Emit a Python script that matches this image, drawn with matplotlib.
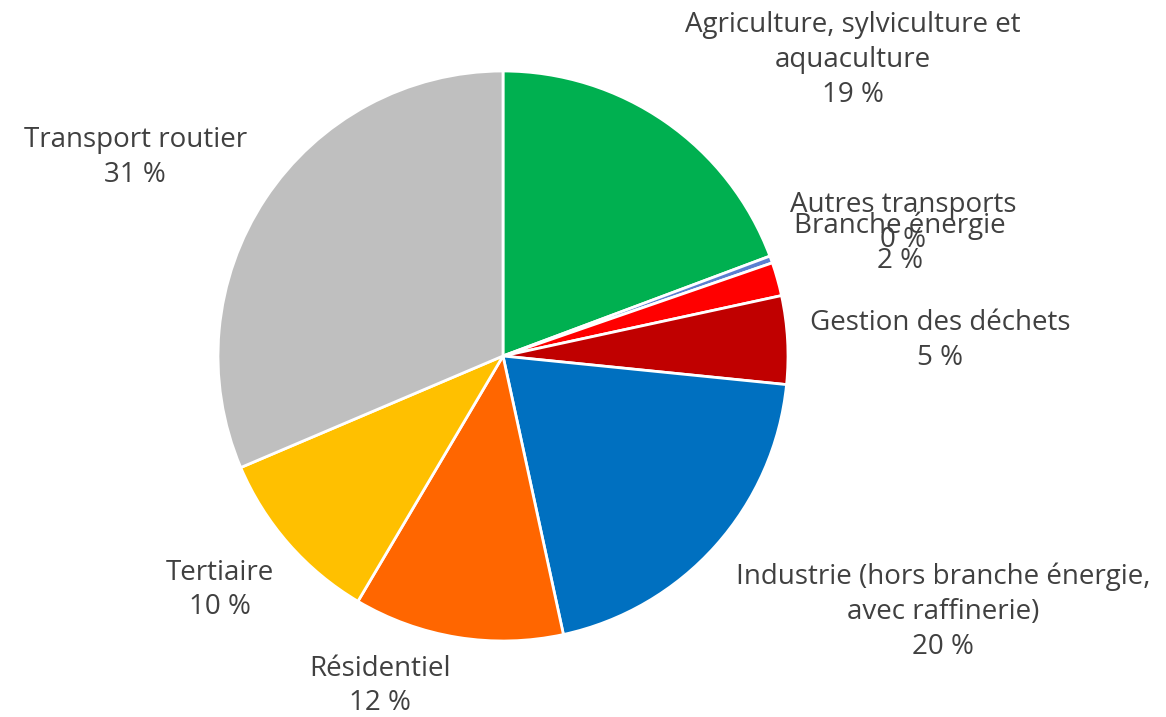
import matplotlib
matplotlib.use("Agg")
import matplotlib.pyplot as plt

# secteurs, dans le sens horaire depuis midi
secteurs = ["Agriculture, sylviculture et\naquaculture", "Autres transports", "Branche énergie",
            "Gestion des déchets", "Industrie (hors branche énergie,\navec raffinerie)",
            "Résidentiel", "Tertiaire", "Transport routier"]
parts = [19.3, 0.4, 1.9, 5.0, 20.0, 11.9, 10.1, 31.4]
couleurs = ["#00B050", "#5B7FD0", "#FF0000", "#C00000", "#0070C0", "#FF6600", "#FFC000", "#BFBFBF"]

# position des étiquettes (centre du bloc, en rayons)
pos_etiq = [(1.228, 1.04), (1.404, 0.467), (1.393, 0.396), (1.533, 0.056),
            (1.544, -0.898), (-0.432, -1.158), (-0.993, -0.821), (-1.291, 0.695)]

fig = plt.figure(figsize=(11.66, 7.17), dpi=100)
ax = fig.add_axes([0, 0, 1, 1])

ax.pie(parts, colors=couleurs, startangle=90, counterclock=False, radius=1,
       wedgeprops=dict(edgecolor="white", linewidth=2))

for nom, val, (x, y) in zip(secteurs, parts, pos_etiq):
    ax.text(x, y, f"{nom}\n{round(val)} %", ha="center", va="center",
            fontsize=20, color="#404040", family="Open Sans", linespacing=1.33)

ax.set_xlim(-503 / 285, 663 / 285)
ax.set_ylim(-361 / 285, 356 / 285)
ax.set_aspect("auto")
ax.axis("off")

fig.savefig("out.png", dpi=100, facecolor="white")
